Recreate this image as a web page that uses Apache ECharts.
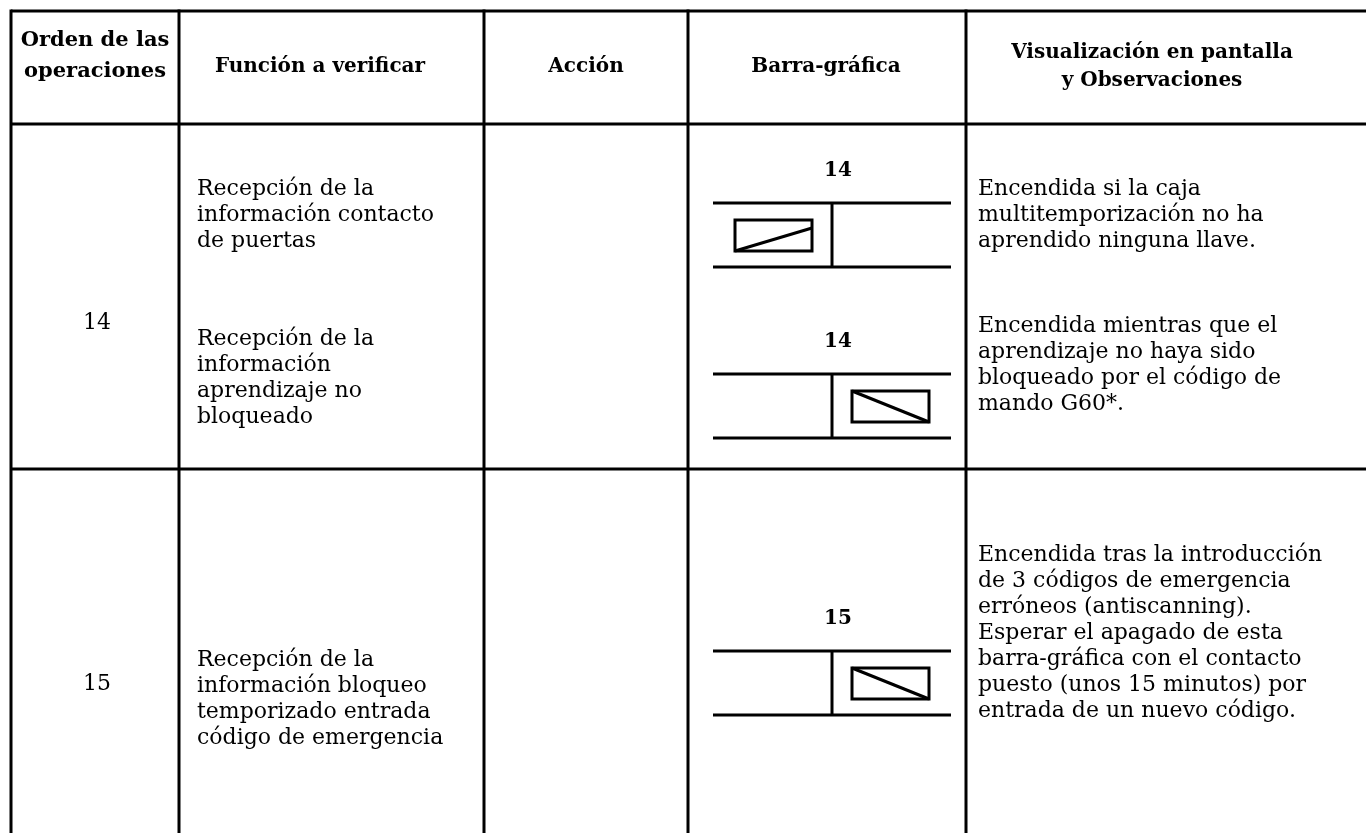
<!DOCTYPE html>
<html><head><meta charset="utf-8">
<script src="https://cdn.jsdelivr.net/npm/echarts@6/dist/echarts.min.js"></script>
<style>html,body{margin:0;padding:0;background:#fff}#c{width:1366px;height:833px}</style>
</head><body><div id="c"></div>
<script>
// ---- data ----
const headers = [['Orden de las', 'operaciones'], ['Función a verificar'], ['Acción'], ['Barra-gráfica'], ['Visualización en pantalla', 'y Observaciones']];
const rowNumbers = ['14', '15'];
const functionTexts = [
  ['Recepción de la', 'información contacto', 'de puertas'],
  ['Recepción de la', 'información', 'aprendizaje no', 'bloqueado'],
  ['Recepción de la', 'información bloqueo', 'temporizado entrada', 'código de emergencia']
];
const observationTexts = [
  ['Encendida si la caja', 'multitemporización no ha', 'aprendido ninguna llave.'],
  ['Encendida mientras que el', 'aprendizaje no haya sido', 'bloqueado por el código de', 'mando G60*.'],
  ['Encendida tras la introducción', 'de 3 códigos de emergencia', 'erróneos (antiscanning).', 'Esperar el apagado de esta', 'barra-gráfica con el contacto', 'puesto (unos 15 minutos) por', 'entrada de un nuevo código.']
];
const barLabels = ['14', '14', '15'];
const barSegment = ['left', 'right', 'right'];

// ---- layout ----
const FONT = '"DejaVu Serif", serif';
const colX = [11, 179, 484, 688, 966, 1366];
const rowY = [11, 124, 469, 833];
const LW = 3;
const lh = 26;
const fs = 22;
const hfs = 20;
const g = [];
function line(x1, y1, x2, y2, w) {
  g.push({type: 'line', shape: {x1, y1, x2, y2}, style: {stroke: '#000', lineWidth: w || LW}});
}
function text(t, x, y, opt) {
  g.push({type: 'text', x, y, style: Object.assign({text: t, fill: '#000', font: `${fs}px ${FONT}`, textAlign: 'left', textVerticalAlign: 'middle'}, opt || {})});
}
// grid lines
line(colX[0], rowY[0], colX[5], rowY[0]);
line(colX[0], rowY[1], colX[5], rowY[1]);
line(colX[0], rowY[2], colX[5], rowY[2]);
for (let i = 0; i < 5; i++) line(colX[i], rowY[0] - 1.5, colX[i], rowY[3]);

// headers
const headerCenters = [[95, [41, 72]], [320, [67]], [586, [67]], [826, [67]], [1152, [53, 81]]];
headers.forEach((h, i) => {
  h.forEach((t, j) => text(t, headerCenters[i][0], headerCenters[i][1][j], {textAlign: 'center', font: `bold ${i === 0 ? hfs + 1 : hfs}px ${FONT}`}));
});
// row numbers
const rowNumY = [323, 684];
rowNumbers.forEach((t, i) => text(t, 97, rowNumY[i], {textAlign: 'center'}));
// function texts
const funcStart = [189, 339, 660];
functionTexts.forEach((lines, i) => lines.forEach((t, j) => text(t, 197, funcStart[i] + j * lh)));
// observation texts
const obsStart = [189, 326, 555];
observationTexts.forEach((lines, i) => lines.forEach((t, j) => text(t, 978, obsStart[i] + j * lh)));
// bar graphics
const barTop = [203, 374, 651];
barLabels.forEach((lab, i) => {
  const top = barTop[i], bot = top + 64;
  text(lab, 838, top - 32, {textAlign: 'center', font: `bold ${hfs}px ${FONT}`});
  line(713, top, 951, top);
  line(713, bot, 951, bot);
  line(832, top, 832, bot);
  const rx = barSegment[i] === 'left' ? 735 : 852;
  const ry = top + 17, rw = 77, rh = 31;
  g.push({type: 'rect', shape: {x: rx, y: ry, width: rw, height: rh}, style: {fill: 'none', stroke: '#000', lineWidth: LW}});
  if (barSegment[i] === 'left') line(rx, ry + rh, rx + rw, ry + 8);
  else line(rx, ry, rx + rw, ry + rh);
});

const chart = echarts.init(document.getElementById('c'));
chart.setOption({animation: false, graphic: {elements: g}});
</script></body></html>
